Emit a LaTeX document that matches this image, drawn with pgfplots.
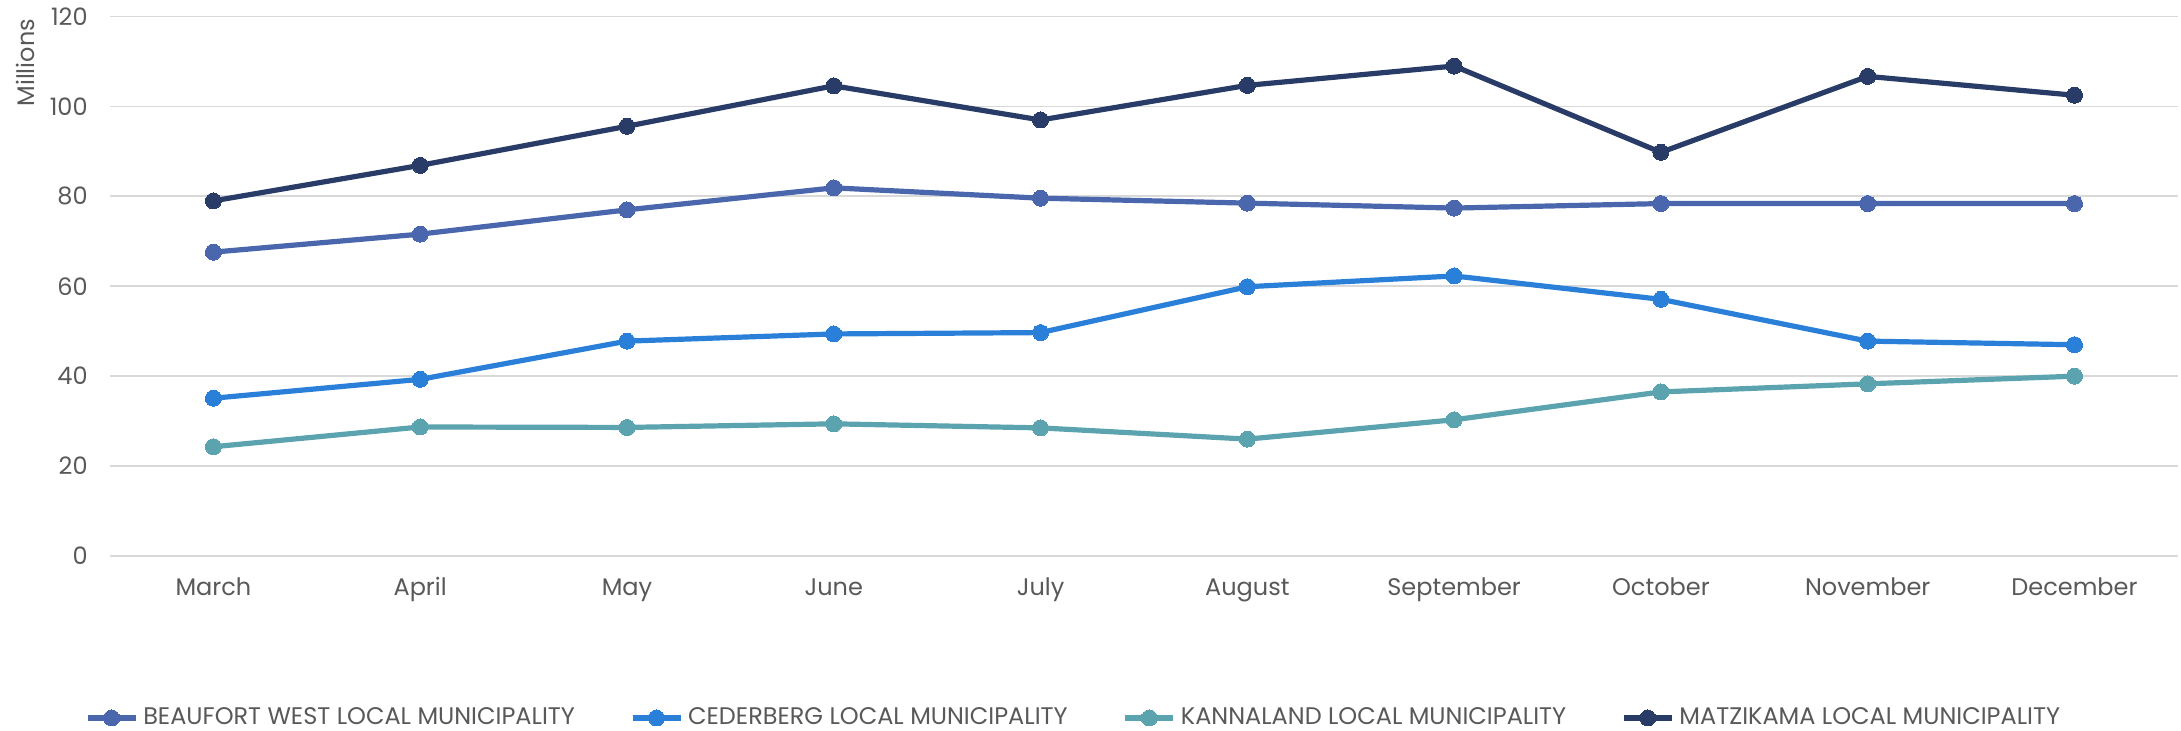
\documentclass[border=0pt]{standalone}
\usepackage{fontspec}
\setmainfont{Poppins}
\usepackage{pgfplots}
\pgfplotsset{compat=1.18}
\definecolor{cBeau}{HTML}{4A66AC}
\definecolor{cCed}{HTML}{2A7FD8}
\definecolor{cKan}{HTML}{5BA3AE}
\definecolor{cMat}{HTML}{293C68}
\definecolor{txt}{HTML}{595959}
\definecolor{grd}{HTML}{D9D9D9}
\begin{document}
\begin{tikzpicture}
\begin{axis}[
  scale only axis,
  width=1034pt, height=269.7pt,
  xmin=-0.5, xmax=9.5,
  ymin=0, ymax=120,
  ytick={0,20,...,120},
  xtick={0,...,9},
  xticklabels={March,April,May,June,July,August,September,October,November,December},
  axis line style={draw=none},
  tick style={draw=none},
  ymajorgrids,
  grid style={grd, line width=0.9pt},
  font=\fontsize{12}{14}\selectfont,
  tick label style={text=txt, font=\fontsize{12}{14}\selectfont},
  /pgf/number format/assume math mode=true,
  yticklabel style={inner sep=0pt, xshift=-11pt},
  xticklabel style={anchor=base, inner sep=0pt, yshift=-20pt},
  ylabel={Millions},
  ylabel style={text=txt, at={(rel axis cs:0,1)}, anchor=east, yshift=42.5pt, xshift=-1pt, inner sep=0pt},
  legend columns=4,
  legend style={draw=none, at={(rel axis cs:0.4667,-0.3003)}, anchor=center,
    font=\fontsize{12}{14}\selectfont, text=txt,
    /tikz/every even column/.append style={column sep=25pt},
    nodes={inner sep=2.5pt}},
  legend image code/.code={
    \draw[mark repeat=2,mark phase=2,#1] plot coordinates {(0pt,0pt)(12pt,0pt)(24pt,0pt)};},
  clip=false,
]
\addplot[cBeau, line width=2.6pt, mark=*, mark size=4pt, mark options={fill=cBeau, draw=cBeau, line width=0pt}] coordinates {
(0,67.6)(1,71.6)(2,77.0)(3,81.9)(4,79.6)(5,78.5)(6,77.4)(7,78.4)(8,78.4)(9,78.4)};
\addlegendentry{BEAUFORT WEST LOCAL MUNICIPALITY}
\addplot[cCed, line width=2.6pt, mark=*, mark size=4pt, mark options={fill=cCed, draw=cCed, line width=0pt}] coordinates {
(0,35.1)(1,39.3)(2,47.8)(3,49.4)(4,49.7)(5,59.9)(6,62.3)(7,57.1)(8,47.8)(9,47.0)};
\addlegendentry{CEDERBERG LOCAL MUNICIPALITY}
\addplot[cKan, line width=2.6pt, mark=*, mark size=4pt, mark options={fill=cKan, draw=cKan, line width=0pt}] coordinates {
(0,24.3)(1,28.7)(2,28.6)(3,29.4)(4,28.5)(5,26.0)(6,30.3)(7,36.5)(8,38.3)(9,40.0)};
\addlegendentry{KANNALAND LOCAL MUNICIPALITY}
\addplot[cMat, line width=2.6pt, mark=*, mark size=4pt, mark options={fill=cMat, draw=cMat, line width=0pt}] coordinates {
(0,79.0)(1,86.9)(2,95.6)(3,104.6)(4,97.0)(5,104.7)(6,109.0)(7,89.8)(8,106.7)(9,102.5)};
\addlegendentry{MATZIKAMA LOCAL MUNICIPALITY}
\end{axis}
\pgfresetboundingbox
\path (-55pt,-87.5pt) rectangle (1035.5pt,278pt);
\end{tikzpicture}
\end{document}
